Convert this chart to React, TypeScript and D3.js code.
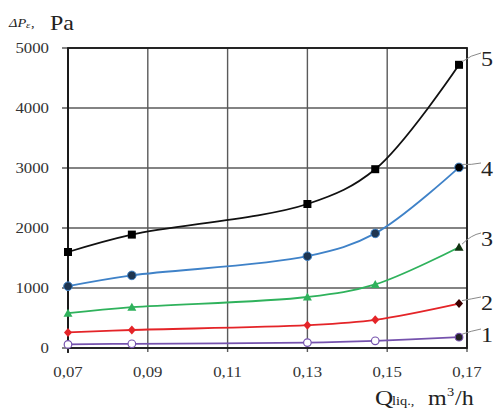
import React from "react";
import * as d3 from "d3";

const qValues = [0.07, 0.086, 0.13, 0.147, 0.168];
const series5 = [1600, 1890, 2400, 2980, 4720];
const series4 = [1030, 1210, 1530, 1910, 3010];
const series3 = [580, 680, 850, 1060, 1680];
const series2 = [260, 300, 380, 470, 740];
const series1 = [60, 70, 90, 120, 180];
const seriesLabels = ["5", "4", "3", "2", "1"];
const xTicks = [0.07, 0.09, 0.11, 0.13, 0.15, 0.17];
const yTicks = [0, 1000, 2000, 3000, 4000, 5000];

const W = 496, H = 412;
const left = 68, right = 467, top = 48, bottom = 348;
const SX = 1.2;
const FONT = "'Liberation Serif', 'Times New Roman', serif";

function ST(props: { x: number; y: number; anchor?: string; size: number; fill?: string; children: React.ReactNode; italic?: boolean }) {
  return (
    <text
      transform={`translate(${props.x},${props.y}) scale(${SX},1)`}
      textAnchor={props.anchor || "start"}
      fontSize={props.size}
      fill={props.fill || "#222"}
      fontStyle={props.italic ? "italic" : "normal"}
      style={{ fontFamily: FONT }}
    >
      {props.children}
    </text>
  );
}

export default function App() {
  const x = d3.scaleLinear().domain([0.07, 0.17]).range([left, right]);
  const y = d3.scaleLinear().domain([0, 5000]).range([bottom, top]);
  const line = d3.line<number>().x((_, i) => x(qValues[i])).y((d) => y(d)).curve(d3.curveCatmullRom.alpha(0.5));
  const defs = [
    { vals: series5, color: "#111111", marker: "square", label: seriesLabels[0], ly: 66 },
    { vals: series4, color: "#3f82c8", marker: "circle", label: seriesLabels[1], ly: 176 },
    { vals: series3, color: "#2fb25c", marker: "triangle", label: seriesLabels[2], ly: 246 },
    { vals: series2, color: "#e42428", marker: "diamond", label: seriesLabels[3], ly: 310 },
    { vals: series1, color: "#7552ad", marker: "open", label: seriesLabels[4], ly: 342 },
  ];
  const fmt = (v: number) => v.toFixed(2).replace(".", ",");
  const markerEl = (m: string, cx: number, cy: number, color: string, last: boolean, key: string) => {
    if (m === "square") return <rect key={key} x={cx - 4} y={cy - 4} width={8} height={8} fill="#000" />;
    if (m === "circle") return <circle key={key} cx={cx} cy={cy} r={4.3} fill={last ? "#000" : "#1e3550"} stroke={color} strokeWidth={1} />;
    if (m === "triangle") return <path key={key} d={`M${cx},${cy - 4.5}L${cx + 4.5},${cy + 3.5}L${cx - 4.5},${cy + 3.5}Z`} fill={last ? "#113311" : color} />;
    if (m === "diamond") return <path key={key} d={`M${cx},${cy - 4.5}L${cx + 4},${cy}L${cx},${cy + 4.5}L${cx - 4},${cy}Z`} fill={last ? "#3a0000" : color} />;
    return <circle key={key} cx={cx} cy={cy} r={3.8} fill={last ? "#222" : "#fff"} stroke={color} strokeWidth={1.2} />;
  };
  return (
    <svg width={W} height={H} style={{ position: "absolute", left: 0, top: 0, background: "#fff" }}>
      <rect width={W} height={H} fill="#fff" />
      {xTicks.map((t) => (
        <line key={"gx" + t} x1={x(t)} x2={x(t)} y1={top} y2={bottom + 4} stroke="#5a5a5a" strokeWidth={1.4} />
      ))}
      {yTicks.map((t) => (
        <line key={"gy" + t} x1={left - 6} x2={right} y1={y(t)} y2={y(t)} stroke="#5a5a5a" strokeWidth={1.4} />
      ))}
      <rect x={left} y={top} width={right - left} height={bottom - top} fill="none" stroke="#1a1a1a" strokeWidth={1.8} />
      <line x1={left} x2={left} y1={top} y2={bottom + 5} stroke="#1a1a1a" strokeWidth={1.8} />
      {yTicks.map((t) => (
        <ST key={"ty" + t} x={49} y={y(t) + 5} anchor="end" size={14} fill="#333">{t}</ST>
      ))}
      {xTicks.map((t) => (
        <ST key={"tx" + t} x={x(t)} y={377} anchor="middle" size={14} fill="#333">{fmt(t)}</ST>
      ))}
      {defs.map((s) => (
        <g key={"s" + s.label}>
          <path d={line(s.vals) || ""} fill="none" stroke={s.color} strokeWidth={1.8} />
          {s.vals.map((v, i) => markerEl(s.marker, x(qValues[i]), y(v), s.color, i === s.vals.length - 1, s.label + i))}
          <path d={`M${x(qValues[4]) + 3},${y(s.vals[4]) - 3} Q${right + 4},${s.ly - 11} ${right + 14},${s.ly - 13}`} fill="none" stroke="#8a8a8a" strokeWidth={1} />
          <ST x={481} y={s.ly} size={20} fill="#222">{s.label}</ST>
        </g>
      ))}
      <ST x={9} y={27} size={12} italic>ΔP</ST>
      <ST x={26} y={28} size={9} italic>ε</ST>
      <ST x={31} y={27} size={12}>,</ST>
      <ST x={50} y={30} size={20}>Pa</ST>
      <ST x={375} y={405} size={21}>Q</ST>
      <ST x={392} y={405} size={12}>liq.,</ST>
      <ST x={428} y={405} size={20}>m</ST>
      <ST x={447} y={396} size={12}>3</ST>
      <ST x={455} y={405} size={20}>/h</ST>
    </svg>
  );
}
